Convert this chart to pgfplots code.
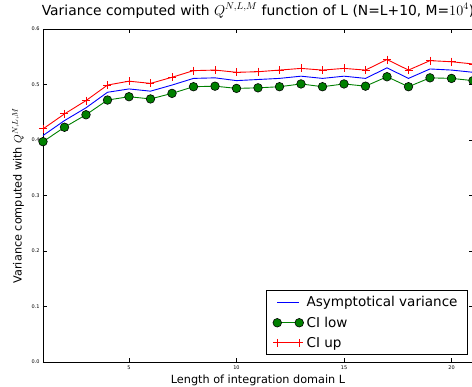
\documentclass[border=0pt]{standalone}
\usepackage{pgfplots}
\pgfplotsset{compat=1.18}
\usepackage{fontspec}
\setmainfont{DejaVu Sans}
\definecolor{mplgreen}{rgb}{0,0.5,0}
\begin{document}
\begin{tikzpicture}
\begin{axis}[
  scale only axis, width=430bp, height=333bp,
  xmin=1, xmax=21, ymin=0, ymax=0.6,
  xtick={5,10,15,20}, ytick={0,0.1,0.2,0.3,0.4,0.5,0.6},
  yticklabel style={/pgf/number format/.cd, fixed, fixed zerofill, precision=1},
  /pgf/number format/assume math mode=true,
  tick label style={font=\fontsize{5}{6}\selectfont},
  tick align=inside, major tick length=4bp,
  xtick pos=both, ytick pos=both, xticklabel pos=left, yticklabel pos=left,
  axis line style={line width=0.8bp},
  tick style={black, line width=0.6bp},
  title={Variance computed with $Q^{N,L,M}$ function of L (N=L+10, M=$10^4$)},
  title style={font=\fontsize{13.9}{16}\selectfont, at={(0.5,1.024)}, anchor=base},
  xlabel={Length of integration domain L},
  xlabel style={font=\fontsize{11.3}{13}\selectfont, at={(0.5,-0.066)}, anchor=base},
  ylabel={Variance computed with $Q^{N,L,M}$},
  ylabel style={font=\fontsize{11.3}{13}\selectfont, at={(-0.058,0.5)}, anchor=center},
  legend style={at={(0.988,0.021)}, anchor=south east, draw=black, line width=0.6bp,
    font=\fontsize{13.6}{15}\selectfont, inner xsep=7bp, inner ysep=3bp, row sep=2.5bp,
    nodes={inner sep=3bp}},
  legend cell align=left,
  legend image code/.code={\draw[mark repeat=1,#1] plot coordinates {(0bp,0bp) (22bp,0bp)};},
]
\coordinate (O) at (rel axis cs:0,0);
\addplot[blue, line width=0.9bp] coordinates {
(1,0.408) (2,0.435) (3,0.458) (4,0.486) (5,0.492) (6,0.488) (7,0.499) (8,0.511) (9,0.512) (10,0.507)
(11,0.509) (12,0.511) (13,0.515) (14,0.511) (15,0.515) (16,0.511) (17,0.530) (18,0.511) (19,0.528) (20,0.526) (21,0.522)};
\addlegendentry{Asymptotical variance}
\addplot[mplgreen, line width=0.9bp, mark=*, mark size=4.3bp, mark options={fill=mplgreen, draw=black, line width=0.6bp}] coordinates {
(1,0.397) (2,0.423) (3,0.4455) (4,0.472) (5,0.478) (6,0.474) (7,0.484) (8,0.496) (9,0.497) (10,0.493)
(11,0.494) (12,0.496) (13,0.501) (14,0.496) (15,0.501) (16,0.497) (17,0.514) (18,0.496) (19,0.512) (20,0.511) (21,0.507)};
\addlegendentry{CI low}
\addplot[red, line width=0.9bp, mark=+, mark size=4bp, mark options={line width=0.9bp}] coordinates {
(1,0.420) (2,0.447) (3,0.471) (4,0.499) (5,0.506) (6,0.502) (7,0.513) (8,0.525) (9,0.526) (10,0.522)
(11,0.523) (12,0.526) (13,0.529) (14,0.526) (15,0.529) (16,0.526) (17,0.545) (18,0.526) (19,0.543) (20,0.541) (21,0.537)};
\addlegendentry{CI up}
\end{axis}
\pgfresetboundingbox
\useasboundingbox ([shift={(-43bp,-25bp)}]O) rectangle ([shift={(429bp,362bp)}]O);
\end{tikzpicture}
\end{document}
